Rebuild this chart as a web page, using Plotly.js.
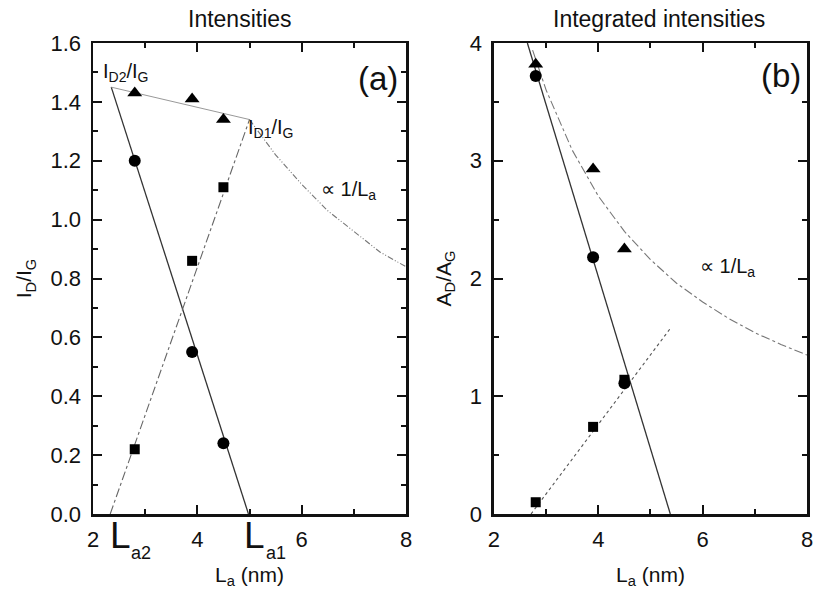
<!DOCTYPE html>
<html>
<head>
<meta charset="utf-8">
<script src="https://cdn.plot.ly/plotly-3.0.1.min.js"></script>
<style>html,body{margin:0;padding:0;background:#fff}</style>
</head>
<body>
<div id="chart" style="width:822px;height:589px"></div>
<script>
// ---- data ----
const La = [2.8, 3.9, 4.5];            // crystallite size (nm)

// panel (a): intensities
const a_ID2 = [1.43, 1.41, 1.34];      // triangles
const a_circ = [1.20, 0.55, 0.24];     // circles
const a_sq = [0.22, 0.86, 1.11];       // squares

// panel (a) guide lines
const a_solidX = [2.35, 4.98], a_solidY = [1.45, 0.0];
const a_topX = [2.35, 5.0], a_topY = [1.45, 1.34];
const a_dashX = [2.33, 5.0], a_dashY = [0.0, 1.34];
const a_invX = [5.0, 5.5, 6.0, 6.5, 7.0, 7.5, 8.0];
const a_invY = [1.34, 1.22, 1.12, 1.03, 0.96, 0.89, 0.84];

// panel (b): integrated intensities
const b_tri = [3.82, 2.93, 2.25];
const b_circ = [3.72, 2.18, 1.11];
const b_sq = [0.10, 0.74, 1.14];

// panel (b) guide lines
const b_solidX = [2.64, 5.38], b_solidY = [4.0, 0.0];
const b_dotX = [2.71, 5.37], b_dotY = [0.0, 1.57];
const b_invX = [2.74, 3.0, 3.5, 4.0, 4.5, 5.0, 5.5, 6.0, 6.5, 7.0, 7.5, 8.0];
const b_invY = [3.94, 3.60, 3.09, 2.70, 2.40, 2.16, 1.96, 1.80, 1.66, 1.54, 1.44, 1.35];

const xTicks = [2, 4, 6, 8];
const aYTicks = [0, 0.2, 0.4, 0.6, 0.8, 1.0, 1.2, 1.4, 1.6];
const bYTicks = [0, 1, 2, 3, 4];

// ---- traces ----
function line(x, y, xa, ya, color, dash, w) {
  return {x: x, y: y, xaxis: xa, yaxis: ya, mode: 'lines', type: 'scatter',
          line: {color: color, dash: dash, width: w}, hoverinfo: 'skip', showlegend: false};
}
function pts(x, y, xa, ya, sym, size) {
  return {x: x, y: y, xaxis: xa, yaxis: ya, mode: 'markers', type: 'scatter',
          marker: {symbol: sym, size: size, color: '#000'}, showlegend: false};
}

const traces = [
  line(a_solidX, a_solidY, 'x', 'y', '#333', 'solid', 1.3),
  line(a_topX, a_topY, 'x', 'y', '#999', 'solid', 1.0),
  line(a_dashX, a_dashY, 'x', 'y', '#666', 'dashdot', 1.1),
  line(a_invX, a_invY, 'x', 'y', '#777', '6px,2px,1px,2px,1px,2px', 1.1),
  pts(La, a_ID2, 'x', 'y', 'triangle-up', 13),
  pts(La, a_circ, 'x', 'y', 'circle', 12),
  pts(La, a_sq, 'x', 'y', 'square', 10),

  line(b_solidX, b_solidY, 'x2', 'y2', '#333', 'solid', 1.3),
  line(b_dotX, b_dotY, 'x2', 'y2', '#555', 'dot', 1.1),
  line(b_invX, b_invY, 'x2', 'y2', '#777', 'dashdot', 1.1),
  pts(La, b_tri, 'x2', 'y2', 'triangle-up', 13),
  pts(La, b_circ, 'x2', 'y2', 'circle', 12),
  pts(La, b_sq, 'x2', 'y2', 'square', 10)
];

const FAM = 'Liberation Sans, Arial, sans-serif';
const tickFont = {family: FAM, size: 22, color: '#111'};
const titleFont = {family: FAM, size: 21, color: '#111'};

function xAxis(domain, anchor) {
  return {domain: domain, anchor: anchor, range: [2, 8], tickvals: xTicks, ticktext: xTicks.map(String),
    ticks: 'inside', ticklen: 9, tickwidth: 2, tickcolor: '#111', ticklabelstandoff: 4,
    showline: true, linecolor: '#111', linewidth: 2.5, mirror: 'ticks',
    showgrid: false, zeroline: false, tickfont: tickFont,
    minor: {dtick: 1, ticks: 'inside', ticklen: 5, tickwidth: 2, tickcolor: '#111', showgrid: false},
    title: {text: 'L<sub>a</sub> (nm)', font: titleFont, standoff: 27}};
}
function yAxis(anchor, range, tickvals, fmt, minorD) {
  return {anchor: anchor, domain: [0, 1], range: range, tickvals: tickvals,
    ticktext: tickvals.map(v => fmt(v)),
    ticks: 'inside', ticklen: 9, tickwidth: 2, tickcolor: '#111', ticklabelstandoff: 5,
    showline: true, linecolor: '#111', linewidth: 2.5, mirror: 'ticks',
    showgrid: false, zeroline: false, tickfont: tickFont,
    minor: {dtick: minorD, ticks: 'inside', ticklen: 5, tickwidth: 2, tickcolor: '#111', showgrid: false}};
}

const yA = yAxis('x', [0, 1.6], aYTicks, v => v.toFixed(1), 0.1);
yA.title = {text: 'I<sub>D</sub>/I<sub>G</sub>', font: titleFont, standoff: 13};
const yB = yAxis('x2', [0, 4], bYTicks, v => String(v), 0.5);
yB.title = {text: 'A<sub>D</sub>/A<sub>G</sub>', font: titleFont, standoff: 13};

function ann(text, x, y, xref, yref, size, xanchor) {
  return {text: text, x: x, y: y, xref: xref, yref: yref, showarrow: false,
          xanchor: xanchor || 'center', yanchor: 'middle',
          font: {family: FAM, color: '#111', size: size}};
}

const annotations = [
  ann('Intensities', 0.2052, 1.052, 'paper', 'paper', 23),
  ann('Integrated intensities', 0.7927, 1.052, 'paper', 'paper', 23),
  ann('(a)', 7.46, 1.481, 'x', 'y', 33),
  ann('(b)', 7.51, 3.72, 'x2', 'y2', 33),
  ann('I<sub>D2</sub>/I<sub>G</sub>', 2.15, 1.50, 'x', 'y', 20, 'left'),
  ann('I<sub>D1</sub>/I<sub>G</sub>', 4.94, 1.31, 'x', 'y', 20, 'left'),
  ann('\u221D 1/L<sub>a</sub>', 6.33, 1.10, 'x', 'y', 20, 'left'),
  ann('\u221D 1/L<sub>a</sub>', 5.92, 2.09, 'x2', 'y2', 20, 'left'),
  // La2 / La1 labels below the axis
  ann('L', 2.28, -0.045, 'x', 'paper', 37, 'left'),
  ann('a2', 2.69, -0.082, 'x', 'paper', 18, 'left'),
  ann('L', 4.85, -0.045, 'x', 'paper', 37, 'left'),
  ann('a1', 5.27, -0.082, 'x', 'paper', 18, 'left')
];

const layout = {
  width: 822, height: 589,
  margin: {l: 93, r: 15, t: 43, b: 75},
  paper_bgcolor: '#fff', plot_bgcolor: '#fff',
  showlegend: false,
  xaxis: xAxis([0, 0.4384], 'y'),
  yaxis: yA,
  xaxis2: xAxis([0.5616, 1.0], 'y2'),
  yaxis2: yB,
  annotations: annotations
};

Plotly.newPlot('chart', traces, layout, {staticPlot: true, displayModeBar: false});
</script>
</body>
</html>
